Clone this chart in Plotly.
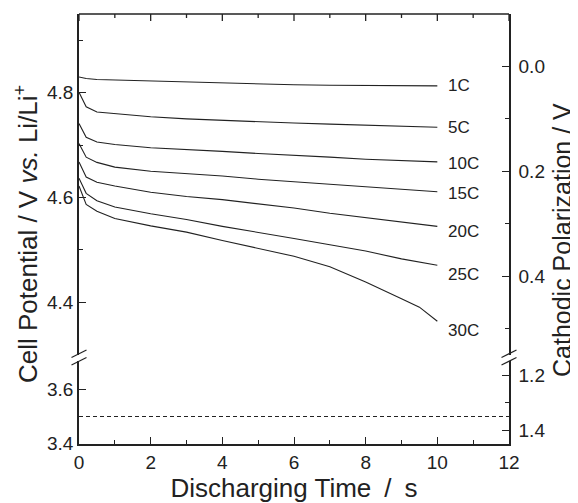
import plotly.graph_objects as go

# discharge time (s)
time_s = [0, 0.2, 0.5, 1, 2, 3, 4, 5, 6, 7, 8, 9, 9.5, 10]

# cell potential (V vs. Li/Li+) for each C-rate
v_1c = [4.830, 4.827, 4.825, 4.824, 4.822, 4.821, 4.819, 4.817, 4.815, 4.814, 4.814, 4.813, 4.813, 4.813]
v_5c = [4.801, 4.773, 4.763, 4.760, 4.754, 4.750, 4.747, 4.744, 4.742, 4.740, 4.738, 4.736, 4.735, 4.734]
v_10c = [4.741, 4.715, 4.706, 4.701, 4.695, 4.692, 4.688, 4.684, 4.681, 4.677, 4.673, 4.670, 4.669, 4.668]
v_15c = [4.703, 4.677, 4.667, 4.658, 4.650, 4.646, 4.641, 4.635, 4.630, 4.625, 4.620, 4.615, 4.613, 4.611]
v_20c = [4.668, 4.639, 4.629, 4.622, 4.610, 4.602, 4.596, 4.588, 4.580, 4.570, 4.562, 4.553, 4.549, 4.545]
v_25c = [4.637, 4.608, 4.594, 4.582, 4.569, 4.558, 4.545, 4.534, 4.522, 4.510, 4.498, 4.483, 4.477, 4.471]
v_30c = [4.622, 4.587, 4.574, 4.560, 4.546, 4.534, 4.518, 4.503, 4.488, 4.468, 4.439, 4.407, 4.391, 4.364]

rates = ["1C", "5C", "10C", "15C", "20C", "25C", "30C"]
series = [v_1c, v_5c, v_10c, v_15c, v_20c, v_25c, v_30c]
label_shift = [0, 0, -2, -2, -5, -9, -9]

x_major = [0, 2, 4, 6, 8, 10, 12]
x_minor = [1, 3, 5, 7, 9, 11]

cutoff_v = 3.5
ref_potential = 4.85  # polarization = ref - cell potential

up_range = [4.294, 4.95]
low_range = [3.399, 3.715]

FONT = "Liberation Sans, Arial, sans-serif"
INK = "#222"

fig = go.Figure()

for name, v in zip(rates, series):
    fig.add_trace(go.Scatter(x=time_s, y=v, mode="lines", name=name,
                             line=dict(color=INK, width=1.1),
                             xaxis="x", yaxis="y", showlegend=False))

# empty traces so the right-hand axes get drawn
for ya in ("y3", "y4"):
    fig.add_trace(go.Scatter(x=[None], y=[None], xaxis="x", yaxis=ya,
                             showlegend=False, hoverinfo="skip"))

# cutoff voltage line in the lower panel
fig.add_shape(type="line", xref="x domain", yref="y2", x0=0, x1=1,
              y0=cutoff_v, y1=cutoff_v, line=dict(color=INK, width=1, dash="4px,3px"))

# curve labels
for name, v, dy in zip(rates, series, label_shift):
    fig.add_annotation(x=10.25, y=v[-1], xref="x", yref="y", text=name,
                       showarrow=False, xanchor="left", yanchor="middle",
                       yshift=dy, font=dict(size=17, color=INK))

axis_common = dict(showline=True, linecolor=INK, linewidth=1.5, ticks="inside",
                   ticklen=7, tickwidth=1.3, tickcolor=INK, showgrid=False,
                   zeroline=False, tickfont=dict(size=19, color=INK))
minor_common = dict(ticks="inside", ticklen=4, tickwidth=1.2, tickcolor=INK, showgrid=False)

# page body adds an 8px offset, so the figure is a bit smaller than the window
fig.update_layout(
    width=570, height=495,
    margin=dict(l=71, r=69, t=6, b=59),
    plot_bgcolor="white", paper_bgcolor="white",
    font=dict(family=FONT, color=INK),
    xaxis=dict(axis_common, domain=[0, 1], range=[0, 12], anchor="y2",
               tickvals=x_major,
               minor=dict(minor_common, tickvals=x_minor),
               title=dict(text="Discharging Time\u2002/\u2002s", font=dict(size=26), standoff=2)),
    yaxis=dict(axis_common, domain=[0.2, 1], range=up_range, anchor="x",
               tickvals=[4.4, 4.6, 4.8], ticktext=["4.4", "4.6", "4.8"],
               minor=dict(minor_common, tickvals=[4.5, 4.7, 4.9])),
    yaxis2=dict(axis_common, domain=[0, 0.2], range=low_range, anchor="x",
                tickvals=[3.4, 3.6], ticktext=["3.4", "3.6"],
                minor=dict(minor_common, tickvals=[3.5])),
    yaxis3=dict(axis_common, overlaying="y", anchor="x", side="right",
                range=[ref_potential - up_range[0], ref_potential - up_range[1]],
                tickvals=[0, 0.2, 0.4], ticktext=["0.0", "0.2", "0.4"],
                ticklabelstandoff=4,
                minor=dict(minor_common, tickvals=[0.1, 0.3, 0.5])),
    yaxis4=dict(axis_common, overlaying="y2", anchor="x", side="right",
                range=[ref_potential - low_range[0], ref_potential - low_range[1]],
                tickvals=[1.2, 1.4], ticktext=["1.2", "1.4"],
                ticklabelstandoff=4,
                minor=dict(minor_common, tickvals=[1.3])),
)

# plot area is 430 x 430 px, left edge at x=79 and bottom at y=444 on the page
def px(x):
    return (x - 79) / 430

def py(y):
    return (444 - y) / 430

# top frame line with inward ticks
fig.add_shape(type="line", xref="paper", yref="paper", x0=0, x1=1, y0=1, y1=1,
              line=dict(color=INK, width=1.6))
for vals, ln in ((x_major, 7), (x_minor, 4)):
    for t in vals:
        fig.add_shape(type="line", xref="x", yref="paper", x0=t, x1=t,
                      y0=1, y1=1 - ln / 430, line=dict(color=INK, width=1.3))

# axis titles spanning both panels
fig.add_annotation(xref="paper", yref="paper", x=px(26), y=py(234), textangle=-90,
                   xanchor="center", yanchor="middle",
                   text="Cell Potential / V <i>vs.</i> Li/Li<sup>+</sup>",
                   showarrow=False, font=dict(size=26, color=INK))
fig.add_annotation(xref="paper", yref="paper", x=px(562), y=py(240), textangle=-90,
                   xanchor="center", yanchor="middle",
                   text="Cathodic Polarization / V",
                   showarrow=False, font=dict(size=25, color=INK))

# axis break marks
for xa in (79, 509):
    fig.add_shape(type="line", xref="paper", yref="paper",
                  x0=px(xa), x1=px(xa), y0=py(355), y1=py(361),
                  line=dict(color="white", width=4))
    for yb in (357.5, 365):
        fig.add_shape(type="line", xref="paper", yref="paper",
                      x0=px(xa - 7.5), y0=py(yb), x1=px(xa + 7.5), y1=py(yb - 7.5),
                      line=dict(color=INK, width=1.2))

fig.write_html("out.html")
